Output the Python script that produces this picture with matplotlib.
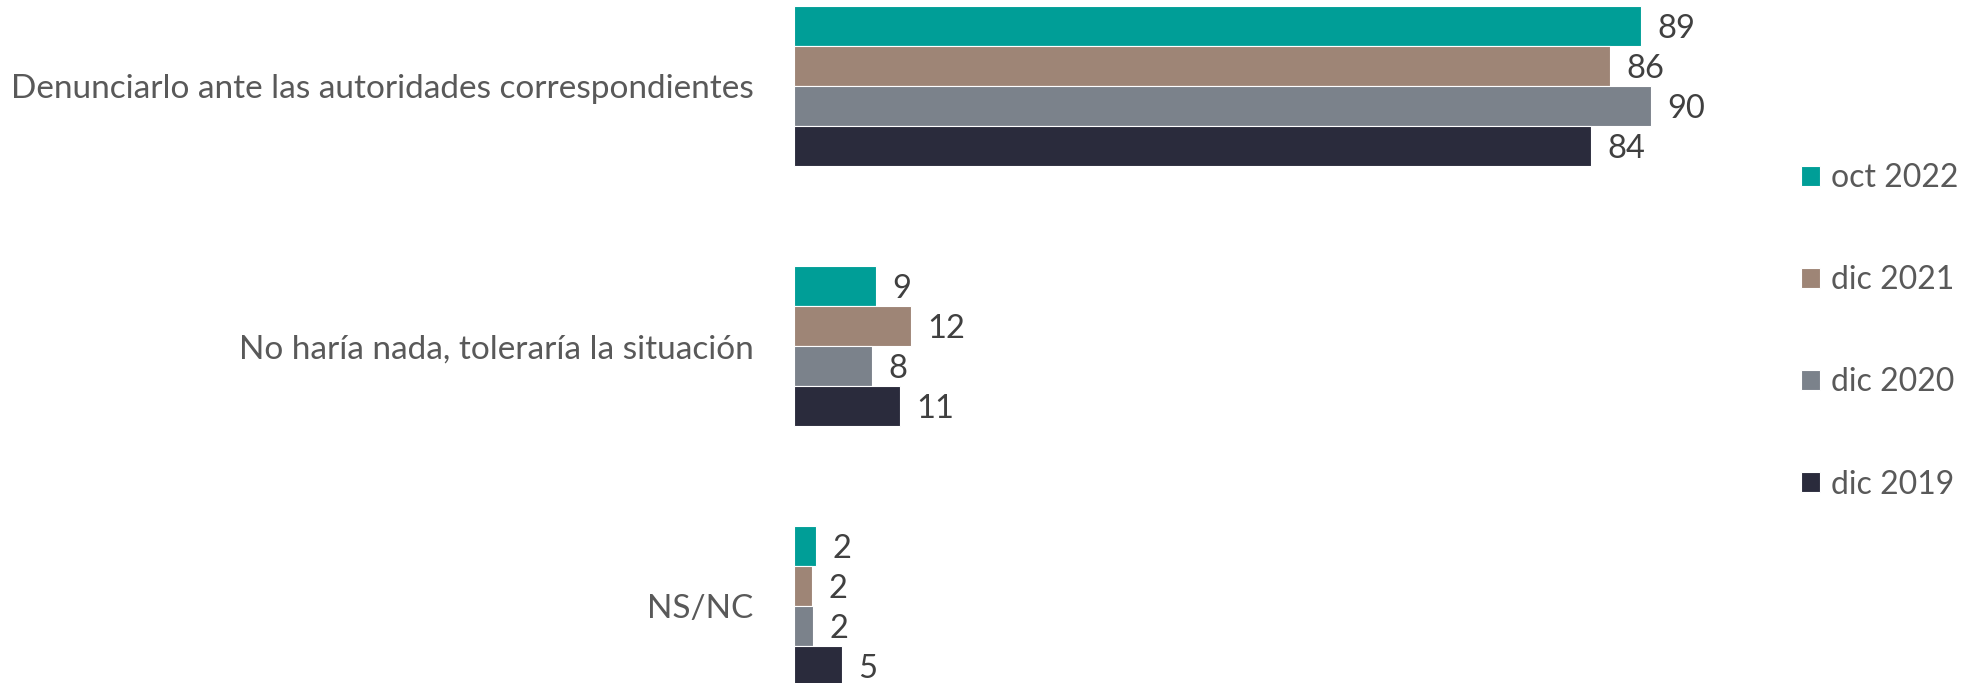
import matplotlib
matplotlib.use("Agg")
import matplotlib.pyplot as plt
import numpy as np

categories = ["Denunciarlo ante las autoridades correspondientes",
              "No haría nada, toleraría la situación",
              "NS/NC"]
series_names = ["oct 2022", "dic 2021", "dic 2020", "dic 2019"]
oct_2022 = [89, 8.6, 2.3]
dic_2021 = [85.7, 12.3, 1.9]
dic_2020 = [90, 8.2, 2.0]
dic_2019 = [83.7, 11.1, 5.0]
colors = ["#009E97", "#9E8576", "#7B828B", "#2A2B3C"]

series = [oct_2022, dic_2021, dic_2020, dic_2019]

plt.rcParams['font.family'] = ['Lato', 'DejaVu Sans']

fig = plt.figure(figsize=(19.87, 6.83), dpi=100)
ax = fig.add_axes([794/1987, 0, 952/1987, 1])

y = np.arange(len(categories))
h = 0.154
handles = []
for i, (vals, name, col) in enumerate(zip(series, series_names, colors)):
    pos = y - 1.5*h + i*h
    b = ax.barh(pos, vals, height=h, color=col, edgecolor='white', linewidth=0.8, label=name)
    handles.append(b)
    for p, v in zip(pos, vals):
        ax.text(v + 1.7, p + 0.01, f"{round(v):d}", va='center', ha='left',
                fontsize=23.5, color='#404040')

ax.set_xlim(0, 100)
ax.set_ylim(2.296, -0.331)
ax.set_yticks(y)
ax.set_yticklabels(categories, fontsize=24, color='#595959')
ax.tick_params(axis='y', length=0, pad=29)
ax.set_xticks([])
for s in ax.spines.values():
    s.set_visible(False)

leg = fig.legend(handles=handles, labels=series_names, loc='upper left',
                 bbox_to_anchor=(1801/1987, 1 - 163/683), frameon=False,
                 fontsize=23, labelcolor='#595959', handlelength=0.6,
                 handleheight=0.6, handletextpad=0.35, labelspacing=2.26,
                 borderpad=0, borderaxespad=0)

fig.savefig("out.png", dpi=100)
